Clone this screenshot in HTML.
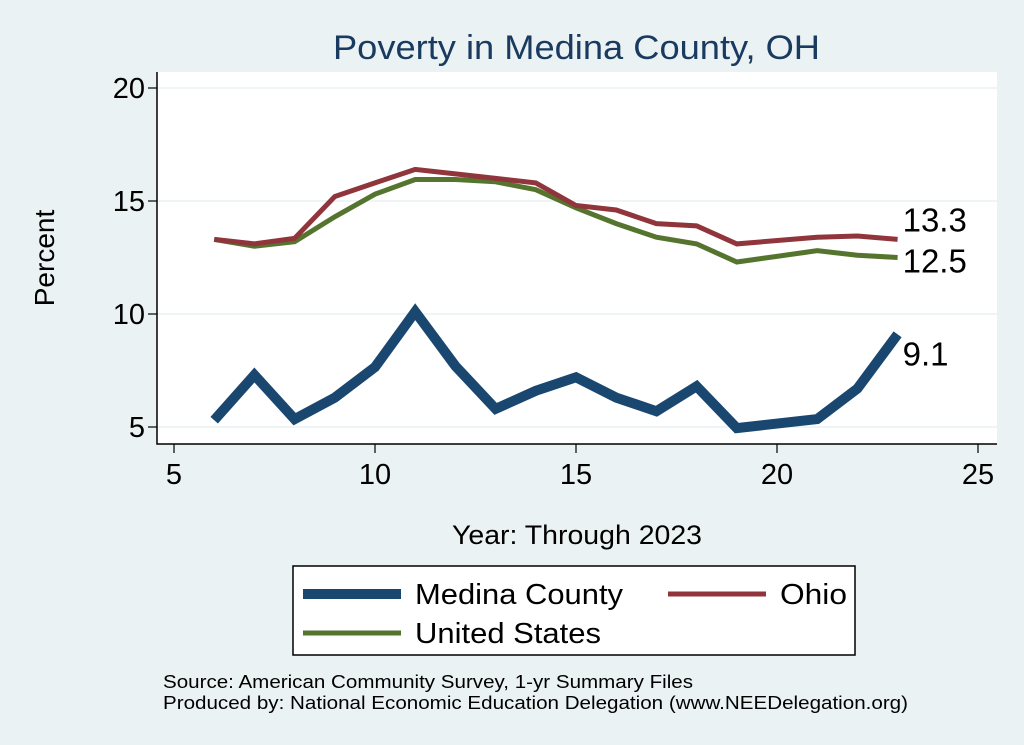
<!DOCTYPE html>
<html><head><meta charset="utf-8"><style>
html,body{margin:0;padding:0;background:#eaf2f3;}
svg{display:block;font-family:"Liberation Sans",sans-serif;}
</style></head><body>
<svg id="chart" width="1024" height="745" viewBox="0 0 1024 745">
<rect x="0" y="0" width="1024" height="745" fill="#eaf2f3"/>
<rect x="157" y="72" width="840" height="372" fill="#ffffff"/>
<text x="333" y="59" textLength="487" lengthAdjust="spacingAndGlyphs" font-size="34" fill="#1a3a60">Poverty in Medina County, OH</text>
<g id="grid"></g>
<g id="series"></g>
<g id="axes"></g>
<text transform="translate(54,258) rotate(-90)" text-anchor="middle" font-size="28" fill="#000">Percent</text>
<text x="452" y="544" textLength="250" lengthAdjust="spacingAndGlyphs" font-size="27" fill="#000">Year: Through 2023</text>
<g>
<rect x="293" y="566" width="562" height="89" fill="#fff" stroke="#000" stroke-width="1.5"/>
<line x1="303" y1="594" x2="401" y2="594" stroke="#1a476f" stroke-width="10"/>
<text x="415" y="604" textLength="208" lengthAdjust="spacingAndGlyphs" font-size="29">Medina County</text>
<line x1="668" y1="594" x2="766" y2="594" stroke="#90353b" stroke-width="5"/>
<text x="780" y="604" textLength="67" lengthAdjust="spacingAndGlyphs" font-size="29">Ohio</text>
<line x1="303" y1="633" x2="401" y2="633" stroke="#55752f" stroke-width="5"/>
<text x="415" y="643" textLength="186" lengthAdjust="spacingAndGlyphs" font-size="29">United States</text>
</g>
<text x="163" y="688" textLength="530" lengthAdjust="spacingAndGlyphs" font-size="18">Source: American Community Survey, 1-yr Summary Files</text>
<text x="163" y="709" textLength="745" lengthAdjust="spacingAndGlyphs" font-size="18">Produced by: National Economic Education Delegation (www.NEEDelegation.org)</text>
</svg>
<script>
const years=[6,7,8,9,10,11,12,13,14,15,16,17,18,19,21,22,23];
const medina=[5.3,7.3,5.35,6.3,7.65,10.1,7.7,5.8,6.6,7.2,6.3,5.7,6.8,4.95,5.35,6.7,9.1];
const ohio=[13.3,13.1,13.35,15.2,15.8,16.4,16.2,16.0,15.8,14.8,14.6,14.0,13.9,13.1,13.4,13.45,13.3];
const us=[13.3,13.0,13.2,14.3,15.3,15.95,15.95,15.85,15.5,14.7,14.0,13.4,13.1,12.3,12.8,12.6,12.5];
const xTicks=[5,10,15,20,25];
const yTicks=[5,10,15,20];
const NS="http://www.w3.org/2000/svg";
const X=v=>174+(v-5)*40.2;
const Y=v=>427-(v-5)*22.6;
const grid=document.getElementById('grid'),axes=document.getElementById('axes'),series=document.getElementById('series');
function mk(tag,attrs,parent){const e=document.createElementNS(NS,tag);for(const k in attrs)e.setAttribute(k,attrs[k]);parent.appendChild(e);return e;}
yTicks.forEach(t=>{
 const g=mk('line',{x1:157,x2:997,y1:Y(t),y2:Y(t),stroke:'#eaf2f3','stroke-width':1.5},grid);
 
 
 const tk=mk('line',{x1:148,x2:157,y1:Y(t),y2:Y(t),stroke:'#000','stroke-width':1.2},axes);
 
 
 const tx=mk('text',{x:145,y:Y(t)+10,'text-anchor':'end','font-size':29},axes);
 tx.textContent=t;
 
 
});
xTicks.forEach(t=>{
 const tk=mk('line',{x1:X(t),x2:X(t),y1:444,y2:453,stroke:'#000','stroke-width':1.2},axes);
 
 
 const tx=mk('text',{x:X(t),y:484,'text-anchor':'middle','font-size':29},axes);
 tx.textContent=t;
 
 
});
const ax=mk('path',{d:'M157 72 V444 H997',fill:'none',stroke:'#000','stroke-width':1.5},axes);


function line(vals,color,w,name){
 const d=vals.map((v,i)=>(i?'L':'M')+X(years[i]).toFixed(1)+' '+Y(v).toFixed(1)).join(' ');
 const p=mk('path',{d:d,fill:'none',stroke:color,'stroke-width':w,'stroke-linejoin':'miter'},series);
 
 
 const last=vals[vals.length-1];
 return [X(years[years.length-1]),Y(last),last];
}
const u=line(us,'#55752f',5,'line-united-states');
const o=line(ohio,'#90353b',5,'line-ohio');
const m=line(medina,'#1a476f',10,'line-medina-county');
[[o,-8,'label-ohio-last'],[u,15,'label-us-last'],[m,31,'label-medina-last']].forEach(([p,dy,n])=>{
 const t=mk('text',{x:p[0]+5,y:p[1]+dy,'font-size':33},series);
 t.textContent=p[2].toFixed(1);
 
 
});
</script>
</body></html>
